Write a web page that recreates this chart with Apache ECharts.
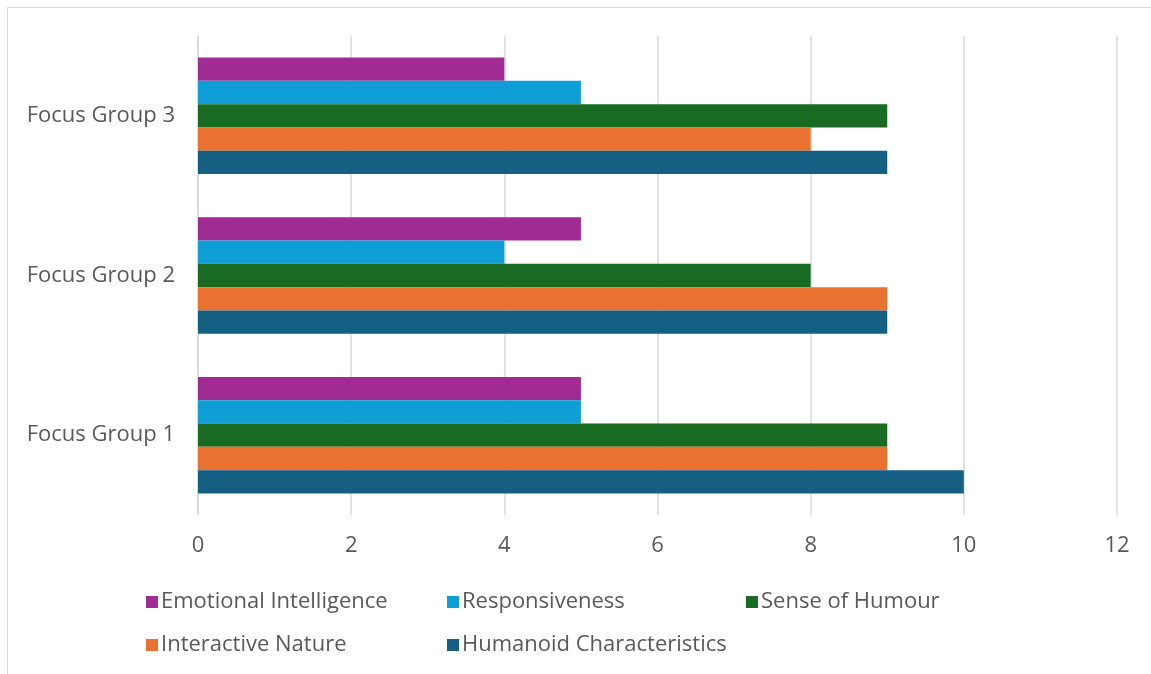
<!DOCTYPE html>
<html>
<head>
<meta charset="utf-8">
<script src="https://cdn.jsdelivr.net/npm/echarts@6/dist/echarts.min.js"></script>
<style>
  html, body { margin: 0; padding: 0; background: #fff; }
  #main { width: 1151px; height: 674px; }
</style>
</head>
<body>
<div id="main"></div>
<script>
// categories, bottom to top as on the axis
var groups = ['Focus Group 1', 'Focus Group 2', 'Focus Group 3'];
var xTicks = [0, 2, 4, 6, 8, 10, 12];

// values per group (Group 1, Group 2, Group 3)
var humanoid = [10, 9, 9];
var interactive = [9, 9, 8];
var humour = [9, 8, 9];
var responsiveness = [5, 4, 5];
var emotional = [5, 5, 4];

var textColor = '#595959';
var font = '"Open Sans"';

var myChart = echarts.init(document.getElementById('main'));

function legendCol(left, names) {
    return {
        orient: 'vertical',
        left: left,
        top: 586,
        itemWidth: 12,
        itemHeight: 12,
        itemGap: 21,
        icon: 'rect',
        textStyle: { color: textColor, fontSize: 22, fontFamily: font, padding: [0, 0, 0, -2] },
        data: names
    };
}

function bar(name, color, data) {
    return {
        name: name,
        type: 'bar',
        data: data,
        barGap: '0%',
        barCategoryGap: '27%',
        itemStyle: { color: color },
        emphasis: { disabled: true }
    };
}

var option = {
    animation: false,
    graphic: [{
        type: 'rect',
        shape: { x: 7.5, y: 7.5, width: 1300, height: 800 },
        style: { fill: 'none', stroke: '#d9d9d9', lineWidth: 1 }
    }],
    grid: { left: 198, right: 34, top: 36, bottom: 159 },
    legend: [
        legendCol(141, ['Emotional Intelligence', 'Interactive Nature']),
        legendCol(442, ['Responsiveness', 'Humanoid Characteristics']),
        legendCol(741, ['Sense of Humour'])
    ],
    xAxis: {
        type: 'value',
        min: xTicks[0],
        max: xTicks[xTicks.length - 1],
        interval: 2,
        axisLine: { show: false },
        axisTick: { show: false },
        splitLine: { lineStyle: { color: '#d9d9d9', width: 1.5 } },
        axisLabel: { color: textColor, fontSize: 22, fontFamily: font, margin: 20 }
    },
    yAxis: {
        type: 'category',
        data: groups,
        axisLine: { show: true, lineStyle: { color: '#d9d9d9', width: 1.5 } },
        axisTick: { show: false },
        axisLabel: { color: textColor, fontSize: 22, fontFamily: font, margin: 23 }
    },
    // first series is drawn at the top of each group
    series: [
        bar('Emotional Intelligence', '#a02b93', emotional),
        bar('Responsiveness', '#0f9ed5', responsiveness),
        bar('Sense of Humour', '#196b24', humour),
        bar('Interactive Nature', '#e97132', interactive),
        bar('Humanoid Characteristics', '#156082', humanoid)
    ]
};
myChart.setOption(option);
window.onresize = myChart.resize;
</script>
</body>
</html>
